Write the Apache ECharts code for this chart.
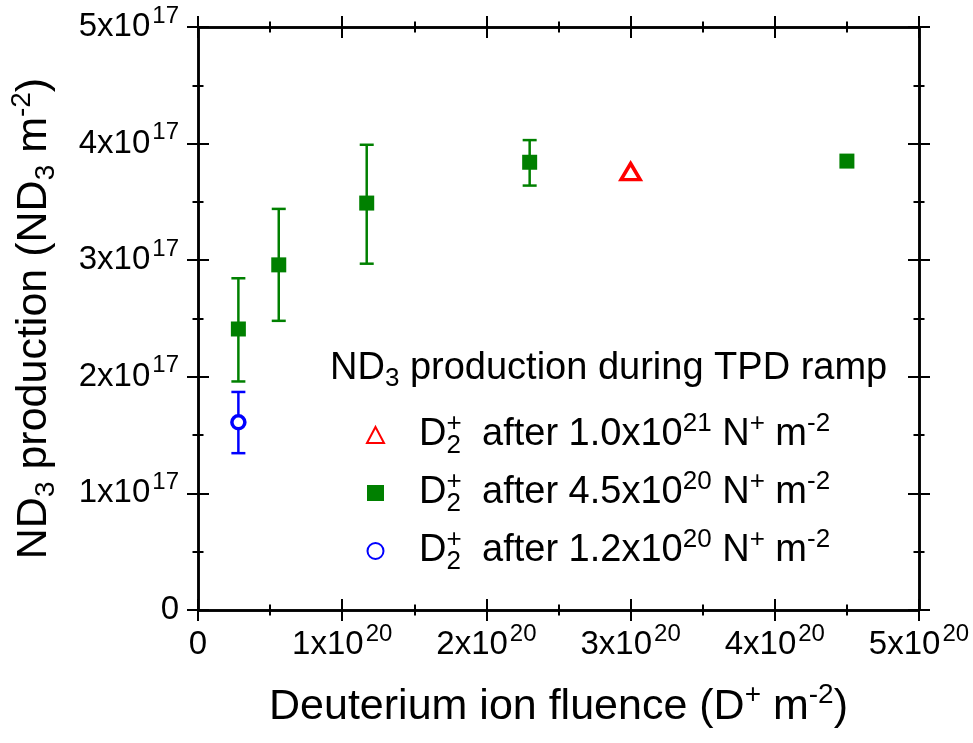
<!DOCTYPE html>
<html>
<head>
<meta charset="utf-8">
<script src="https://cdn.jsdelivr.net/npm/echarts@6/dist/echarts.min.js"></script>
<style>
  html, body { margin: 0; padding: 0; background: #fff; }
  #chart { width: 973px; height: 743px; }
</style>
</head>
<body>
<div id="chart"></div>
<script>
// Deuterium ion fluence (D+ m^-2) and ND3 production (ND3 m^-2)
const fluenceRed = [3.0e20];
const nd3Red = [3.76e17];

const fluenceGreen = [2.8e19, 5.6e19, 1.17e20, 2.3e20, 4.5e20];
const nd3Green = [2.41e17, 2.96e17, 3.49e17, 3.84e17, 3.85e17];
const errLowGreen = [1.96e17, 2.48e17, 2.97e17, 3.64e17, null];
const errHighGreen = [2.845e17, 3.44e17, 3.99e17, 4.03e17, null];

const fluenceBlue = [2.8e19];
const nd3Blue = [1.61e17];
const errLowBlue = [1.345e17];
const errHighBlue = [1.87e17];

const xTickValues = [0, 1e20, 2e20, 3e20, 4e20, 5e20];
const yTickValues = [0, 1e17, 2e17, 3e17, 4e17, 5e17];

const seriesNames = [
  'D2+ after 1.0x10^21 N+ m-2',
  'D2+ after 4.5x10^20 N+ m-2',
  'D2+ after 1.2x10^20 N+ m-2'
];
const legendExponents = ['1.0x10|21', '4.5x10|20', '1.2x10|20'];

const FONT = '"Liberation Sans", Arial, Helvetica, sans-serif';
const BLACK = '#000';
const GREEN = '#008000';
const RED = '#ff0000';
const BLUE = '#0000ff';

const toPairs = (xs, ys) => xs.map((x, i) => [x, ys[i]]);
const toErr = (xs, lo, hi) => xs
  .map((x, i) => [x, lo[i], hi[i]])
  .filter(d => d[1] != null && d[2] != null);

const tickRich = {
  b: { fontSize: 33, fontFamily: FONT, color: BLACK, lineHeight: 46 },
  sup: { fontSize: 24, fontFamily: FONT, color: BLACK, lineHeight: 23, verticalAlign: 'top', padding: [0, 0, 0, 2] }
};

function powerLabel(value, step, exp) {
  const n = Math.round(value / step);
  if (n === 0) return '{b|0}';
  return '{b|' + n + 'x10}{sup|' + exp + '}';
}

// Axis builder: every frame edge carries ticks on both sides of the line
function frameAxis(kind, position, inside, withLabels) {
  const isX = kind === 'x';
  const ax = {
    type: 'value',
    position: position,
    min: 0,
    max: isX ? 5e20 : 5e17,
    interval: isX ? 1e20 : 1e17,
    splitLine: { show: false },
    axisLine: { show: true, onZero: false, lineStyle: { color: BLACK, width: 2.5 } },
    axisTick: { show: true, inside: inside, length: 11, lineStyle: { color: BLACK, width: 2 } },
    minorTick: { show: true, splitNumber: 2, length: 5.5, lineStyle: { color: BLACK, width: 2 } },
    axisLabel: { show: false }
  };
  if (withLabels) {
    ax.axisLabel = {
      show: true,
      margin: isX ? 12 : 19,
      formatter: v => isX ? powerLabel(v, 1e20, 20) : powerLabel(v, 1e17, 17),
      rich: tickRich
    };
  }
  return ax;
}

const xAxes = [
  frameAxis('x', 'bottom', false, true),
  frameAxis('x', 'bottom', true, false),
  frameAxis('x', 'top', false, false),
  frameAxis('x', 'top', true, false)
];
const yAxes = [
  frameAxis('y', 'left', false, true),
  frameAxis('y', 'left', true, false),
  frameAxis('y', 'right', false, false),
  frameAxis('y', 'right', true, false)
];

const nameRich = {
  t: { fontSize: 43, fontFamily: FONT, color: BLACK, lineHeight: 52 },
  sp: { fontSize: 28, fontFamily: FONT, color: BLACK, lineHeight: 27, verticalAlign: 'top' },
  sb: { fontSize: 28, fontFamily: FONT, color: BLACK, lineHeight: 27, verticalAlign: 'bottom' }
};

xAxes[0].name = '{t|Deuterium ion fluence (D}{sp|+}{t| m}{sp|-2}{t|)}';
xAxes[0].nameLocation = 'middle';
xAxes[0].nameGap = 71;
xAxes[0].nameTextStyle = { rich: nameRich };

yAxes[0].name = '{t|ND}{sb|3}{t| production (ND}{sb|3}{t| m}{sp|-2}{t|)}';
yAxes[0].nameLocation = 'middle';
yAxes[0].nameGap = 138;
yAxes[0].nameTextStyle = { rich: nameRich };

function errorBarSeries(data, color) {
  return {
    type: 'custom',
    xAxisIndex: 0,
    yAxisIndex: 0,
    z: 1,
    silent: true,
    encode: { x: 0, y: [1, 2] },
    data: data,
    renderItem: function (params, api) {
      const xv = api.value(0);
      const lo = api.coord([xv, api.value(1)]);
      const hi = api.coord([xv, api.value(2)]);
      const half = 7;
      const st = { stroke: color, lineWidth: 2.5 };
      return {
        type: 'group',
        children: [
          { type: 'line', shape: { x1: lo[0], y1: lo[1], x2: hi[0], y2: hi[1] }, style: st },
          { type: 'line', shape: { x1: lo[0] - half, y1: lo[1], x2: lo[0] + half, y2: lo[1] }, style: st },
          { type: 'line', shape: { x1: hi[0] - half, y1: hi[1], x2: hi[0] + half, y2: hi[1] }, style: st }
        ]
      };
    }
  };
}

const legendRich = {
  d: { fontSize: 38, fontFamily: FONT, color: BLACK, lineHeight: 48 },
  t: { fontSize: 38, fontFamily: FONT, color: BLACK, lineHeight: 48 },
  pl: { fontSize: 26, fontFamily: FONT, color: BLACK, lineHeight: 23, verticalAlign: 'top', width: 0 },
  two: { fontSize: 26, fontFamily: FONT, color: BLACK, lineHeight: 23, verticalAlign: 'bottom' },
  sup: { fontSize: 26, fontFamily: FONT, color: BLACK, lineHeight: 23, verticalAlign: 'top' }
};

function legendLabel(name) {
  const idx = seriesNames.indexOf(name);
  const parts = legendExponents[idx].split('|');
  return '{d|D}{pl|+}{two|2}{t|  after ' + parts[0] + '}{sup|' + parts[1] + '}{t| N}{sup|+}{t| m}{sup|-2}';
}

const chart = echarts.init(document.getElementById('chart'), null, { renderer: 'canvas' });

chart.setOption({
  backgroundColor: '#fff',
  animation: false,
  textStyle: { fontFamily: FONT },
  grid: { left: 197, right: 54, top: 27, bottom: 133, containLabel: false },
  xAxis: xAxes,
  yAxis: yAxes,
  legend: {
    orient: 'vertical',
    left: 361,
    top: 406,
    itemWidth: 17,
    itemHeight: 16,
    itemGap: 10,
    data: seriesNames,
    formatter: legendLabel,
    textStyle: { rich: legendRich, padding: [0, 0, 0, 30] },
    itemStyle: { opacity: 1 },
    selectedMode: false
  },
  graphic: [
    {
      type: 'text',
      left: 330,
      top: 350,
      style: {
        text: '{t|ND}{sb|3}{t| production during TPD ramp}',
        rich: {
          t: { fontSize: 38, fontFamily: FONT, fill: BLACK, lineHeight: 46 },
          sb: { fontSize: 26, fontFamily: FONT, fill: BLACK, lineHeight: 24, verticalAlign: 'bottom' }
        }
      }
    }
  ],
  series: [
    errorBarSeries(toErr(fluenceGreen, errLowGreen, errHighGreen), GREEN),
    errorBarSeries(toErr(fluenceBlue, errLowBlue, errHighBlue), BLUE),
    {
      name: seriesNames[0],
      type: 'scatter',
      z: 3,
      symbol: 'triangle',
      symbolSize: [19, 16],
      itemStyle: { color: '#fff', borderColor: RED, borderWidth: 3.5, opacity: 1 },
      data: toPairs(fluenceRed, nd3Red)
    },
    {
      name: seriesNames[1],
      type: 'scatter',
      z: 3,
      symbol: 'rect',
      symbolSize: 15,
      itemStyle: { color: GREEN, opacity: 1 },
      data: toPairs(fluenceGreen, nd3Green)
    },
    {
      name: seriesNames[2],
      type: 'scatter',
      z: 3,
      symbol: 'circle',
      symbolSize: 13,
      itemStyle: { color: '#fff', borderColor: BLUE, borderWidth: 3.5, opacity: 1 },
      data: toPairs(fluenceBlue, nd3Blue)
    }
  ]
});
</script>
</body>
</html>
